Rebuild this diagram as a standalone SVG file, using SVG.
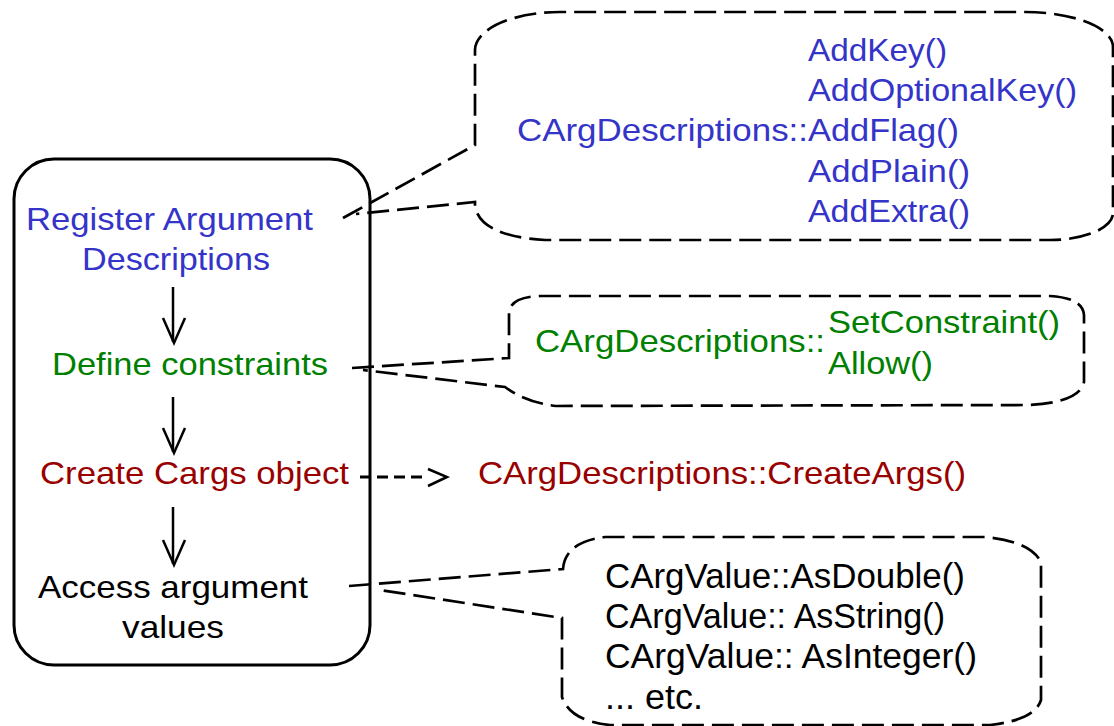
<svg xmlns="http://www.w3.org/2000/svg" width="1114" height="726" viewBox="0 0 1114 726">
<style>
text{font-family:"Liberation Sans",Arial,sans-serif;font-size:32px;}
.tall{font-size:35px;}
.blue{fill:#3434c8;}
.green{fill:#007f00;}
.red{fill:#990000;}
.black{fill:#000;}
.box{fill:none;stroke:#000;stroke-width:3;}
.callout{fill:none;stroke:#000;stroke-width:2.7;stroke-dasharray:22 8;}
.arrow{fill:none;stroke:#000;stroke-width:2.5;}
.dash{fill:none;stroke:#000;stroke-width:3;stroke-dasharray:11 6;}
</style>
<rect width="1114" height="726" fill="#fff"/>

<g id="process-box">
  <rect class="box" x="14" y="159" width="356" height="506" rx="40" ry="40"/>
</g>

<g id="node-register">
  <text class="blue" x="26" y="230" textLength="287" lengthAdjust="spacingAndGlyphs">Register Argument</text>
  <text class="blue" x="82" y="270" textLength="188" lengthAdjust="spacingAndGlyphs">Descriptions</text>
</g>
<g id="node-define">
  <text class="green" x="52" y="375" textLength="276" lengthAdjust="spacingAndGlyphs">Define constraints</text>
</g>
<g id="node-create">
  <text class="red" x="40" y="484" textLength="309" lengthAdjust="spacingAndGlyphs">Create Cargs object</text>
</g>
<g id="node-access">
  <text class="black" x="38" y="598" textLength="270" lengthAdjust="spacingAndGlyphs">Access argument</text>
  <text class="black" x="122" y="638" textLength="102" lengthAdjust="spacingAndGlyphs">values</text>
</g>

<g id="callout-add">
  <path class="callout" d="M343,218 L475,145 L475,50 A85,38 0 0 1 560,12 L1025,12 A88,35 0 0 1 1113,47 L1113,213 A63,27 0 0 1 1050,240 L545,240 Q480,236 475,206 L475,202 L356,214"/>
  <text class="blue" x="808" y="61" textLength="139" lengthAdjust="spacingAndGlyphs">AddKey()</text>
  <text class="blue" x="808" y="101" textLength="269" lengthAdjust="spacingAndGlyphs">AddOptionalKey()</text>
  <text class="blue" x="517" y="141" textLength="291" lengthAdjust="spacingAndGlyphs">CArgDescriptions::</text>
  <text class="blue" x="808" y="141" textLength="151" lengthAdjust="spacingAndGlyphs">AddFlag()</text>
  <text class="blue" x="808" y="182" textLength="162" lengthAdjust="spacingAndGlyphs">AddPlain()</text>
  <text class="blue" x="808" y="222" textLength="162" lengthAdjust="spacingAndGlyphs">AddExtra()</text>
</g>

<g id="callout-constraint">
  <path class="callout" d="M352,368 L509,358 L509,312 Q511,297 540,296 L1050,296 Q1083,298 1084,315 L1084,382 Q1080,402 1030,405 L556,406 Q525,402 505,387 L363,370"/>
  <text class="green" x="535" y="352" textLength="290" lengthAdjust="spacingAndGlyphs">CArgDescriptions::</text>
  <text class="green" x="828" y="333" textLength="232" lengthAdjust="spacingAndGlyphs">SetConstraint()</text>
  <text class="green" x="828" y="374" textLength="105" lengthAdjust="spacingAndGlyphs">Allow()</text>
</g>

<g id="node-createargs">
  <text class="red" x="478" y="484" textLength="488" lengthAdjust="spacingAndGlyphs">CArgDescriptions::CreateArgs()</text>
</g>

<g id="callout-values">
  <path class="callout" d="M349,586 L563,569 Q565,542 605,537 L985,537 Q1030,541 1041,562 L1041,700 Q1035,720 990,725 L610,725 Q570,721 562,697 L562,618 L380,590"/>
  <text class="black tall" x="605" y="588" textLength="360" lengthAdjust="spacingAndGlyphs">CArgValue::AsDouble()</text>
  <text class="black tall" x="605" y="628" textLength="340" lengthAdjust="spacingAndGlyphs">CArgValue:: AsString()</text>
  <text class="black tall" x="605" y="668" textLength="372" lengthAdjust="spacingAndGlyphs">CArgValue:: AsInteger()</text>
  <text class="black tall" x="605" y="709" textLength="98" lengthAdjust="spacingAndGlyphs">... etc.</text>
</g>

<g id="connectors">
  <line class="arrow" x1="173" y1="287" x2="173" y2="342"/>
  <polyline class="arrow" points="163,318 174,343 185,318"/>
  <line class="arrow" x1="173" y1="397" x2="173" y2="452"/>
  <polyline class="arrow" points="163,428 174,453 185,428"/>
  <line class="arrow" x1="173" y1="507" x2="173" y2="564"/>
  <polyline class="arrow" points="163,540 174,565 185,540"/>
  <line class="dash" x1="360" y1="477" x2="422" y2="477"/>
  <polyline class="arrow" points="428,469 447,477 428,486"/>
</g>
</svg>
